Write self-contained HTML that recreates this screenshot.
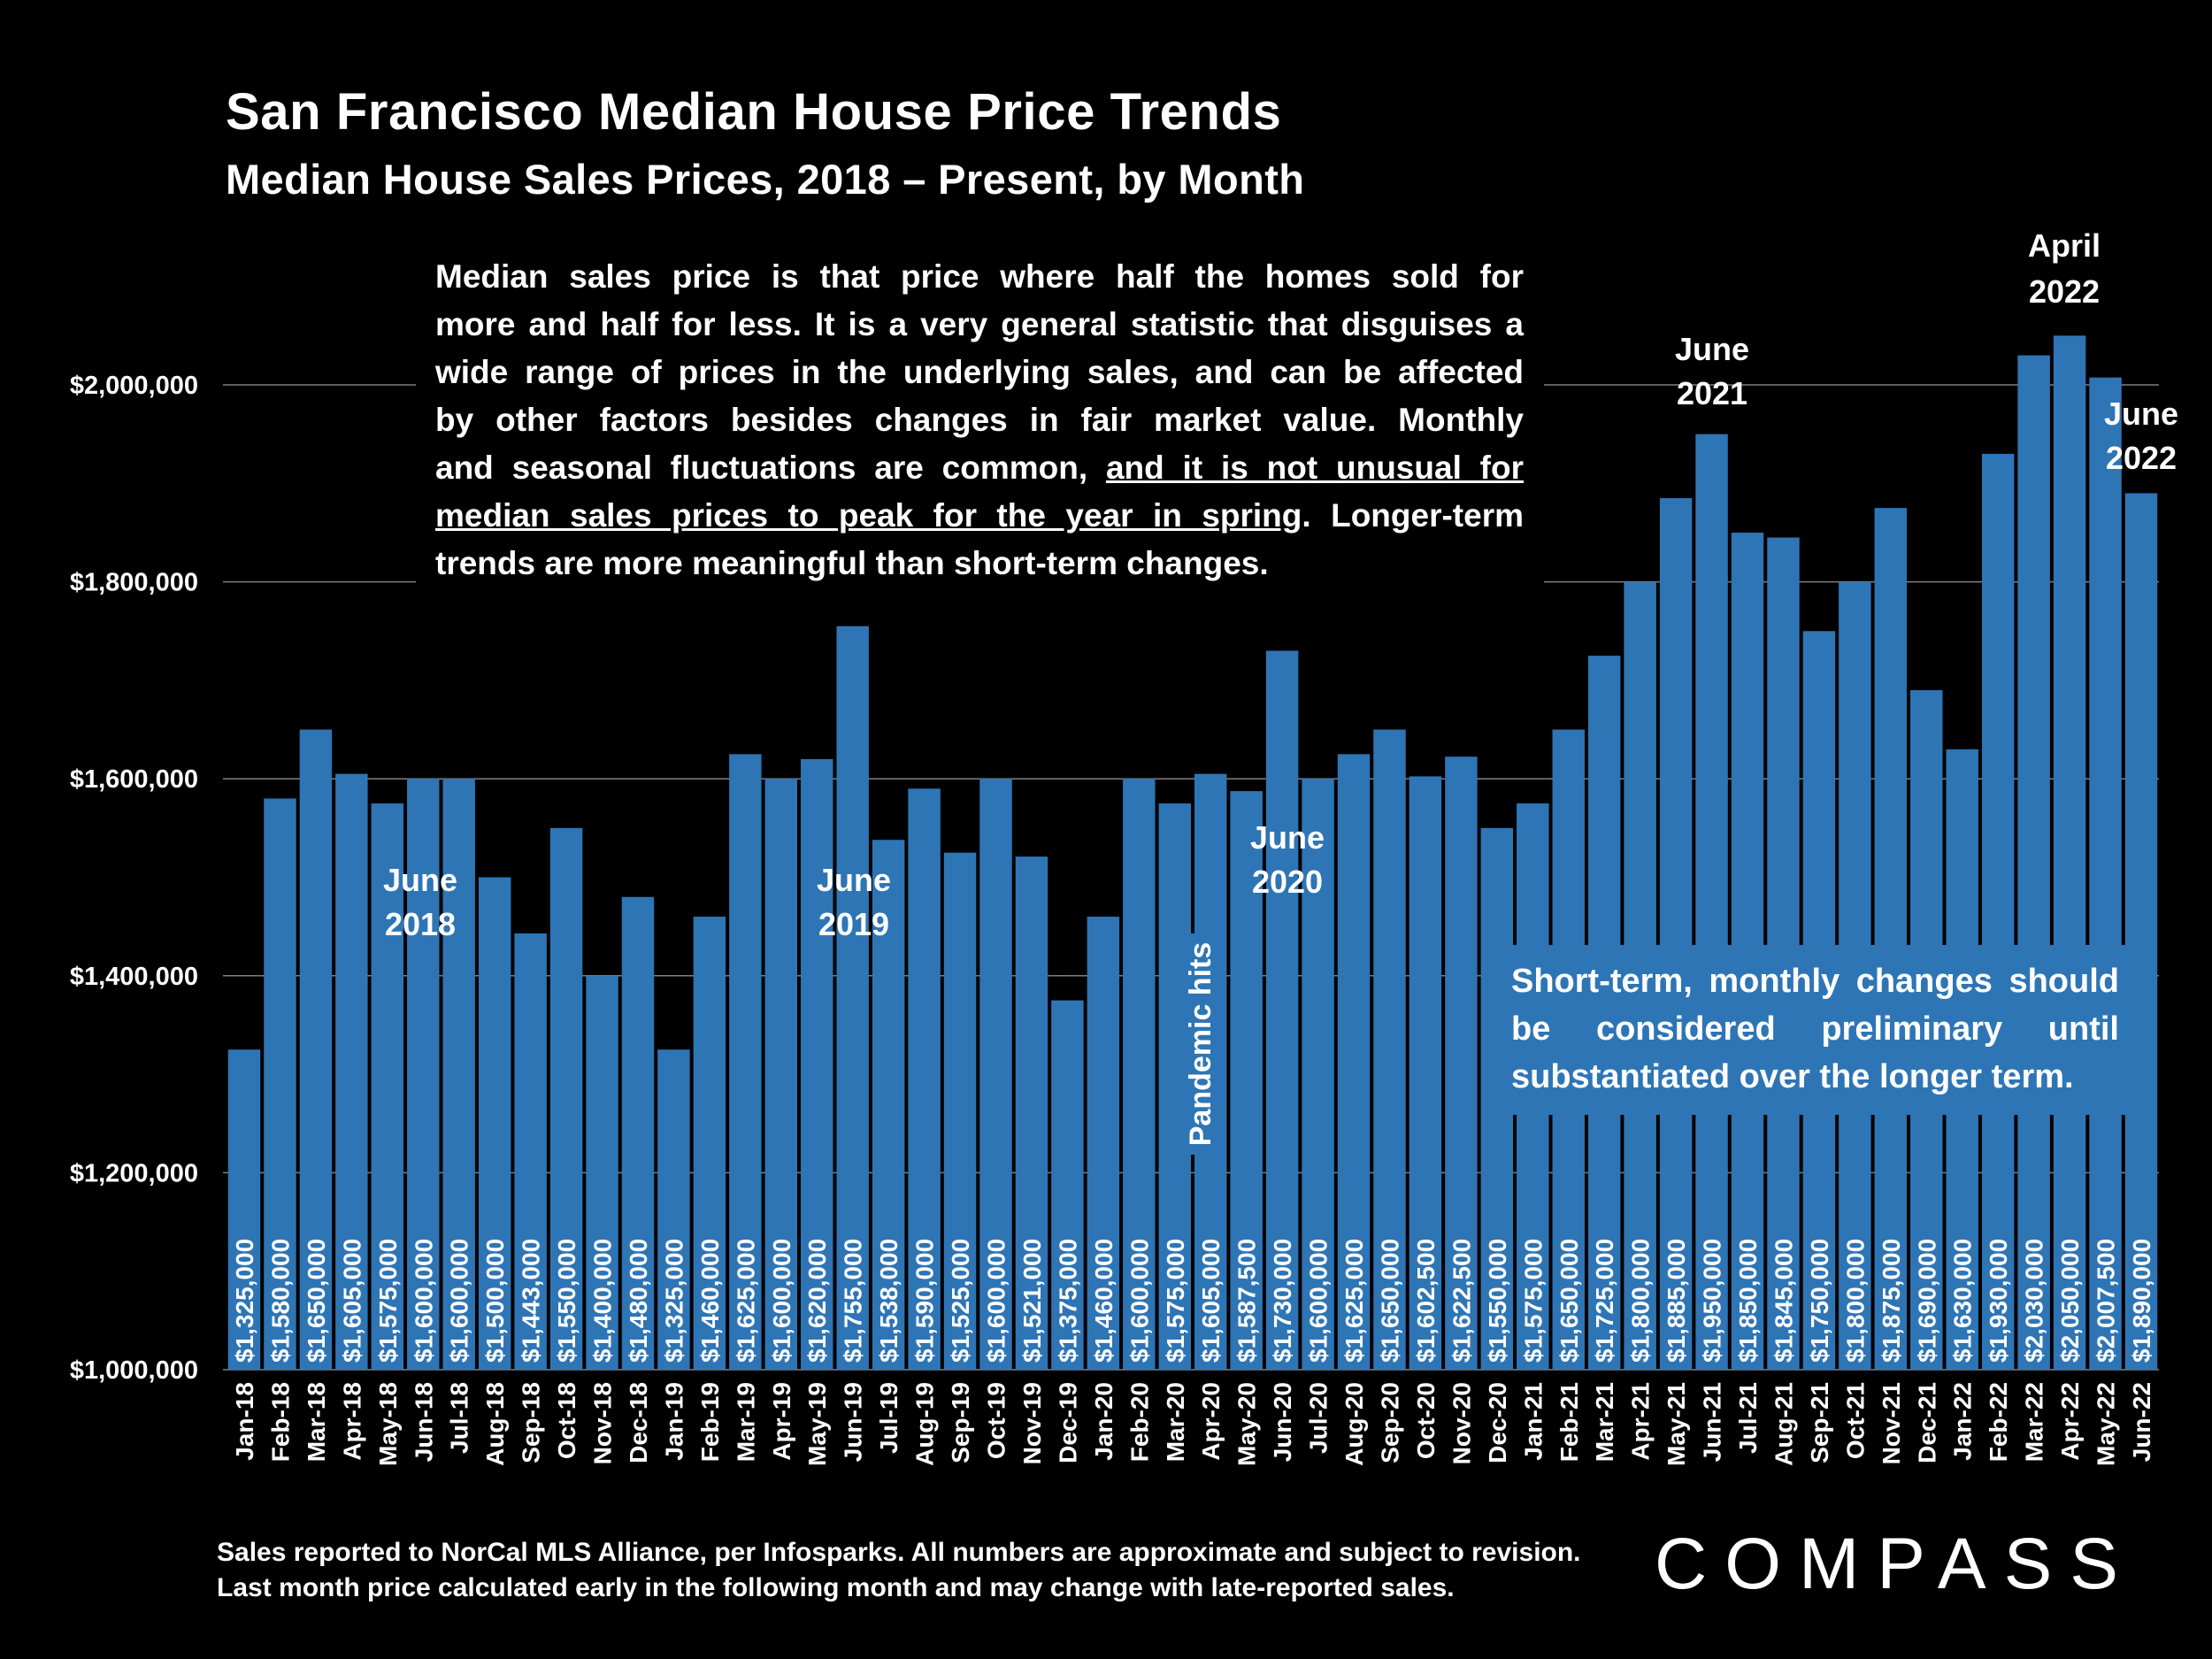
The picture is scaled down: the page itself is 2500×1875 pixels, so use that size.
<!DOCTYPE html>
<html><head><meta charset="utf-8"><style>
html,body{margin:0;padding:0;background:#000;}
#wrap{position:relative;width:2500px;height:1875px;overflow:hidden;background:#000;font-family:"Liberation Sans",sans-serif;color:#fff;}
.txt{position:absolute;font-weight:bold;color:#fff;}
.j span{display:block;text-align:justify;text-align-last:justify;}
.j span.last{text-align-last:left;}
</style></head><body>
<div id="wrap">
<svg id="chart" width="2500" height="1875" viewBox="0 0 2500 1875" style="position:absolute;left:0;top:0">
<g id="grid"></g><g id="bars"></g><g id="vals"></g><g id="xlabels"></g><g id="ylabels"></g>
</svg>
<div class="txt" style="left:255px;top:93px;font-size:58px;letter-spacing:0.6px;">San Francisco Median House Price Trends</div>
<div class="txt" style="left:255px;top:175px;font-size:47px;letter-spacing:0.4px;">Median House Sales Prices, 2018 – Present, by Month</div>
<div class="txt j" style="left:470px;top:275px;width:1275px;height:395px;background:#000;"></div>
<div class="txt j" style="left:492px;top:286px;width:1230px;font-size:37px;line-height:54px;">
<span>Median sales price is that price where half the homes sold for</span>
<span>more and half for less. It is a very general statistic that disguises a</span>
<span>wide range of prices in the underlying sales, and can be affected</span>
<span>by other factors besides changes in fair market value. Monthly</span>
<span>and seasonal fluctuations are common, <u>and it is not unusual for</u></span>
<span><u>median sales prices to peak for the year in spring</u>. Longer-term</span>
<span class="last">trends are more meaningful than short-term changes.</span>
</div>
<div class="txt j" style="left:1695px;top:1068px;width:720px;height:192px;background:#2e75b6;"></div>
<div class="txt j" style="left:1708px;top:1082px;width:687px;font-size:38px;line-height:54px;">
<span>Short-term, monthly changes should</span>
<span>be considered preliminary until</span>
<span class="last">substantiated over the longer term.</span>
</div>
<div class="txt" style="left:400px;top:970px;width:150px;text-align:center;font-size:36px;line-height:50px;">June<br>2018</div>
<div class="txt" style="left:890px;top:970px;width:150px;text-align:center;font-size:36px;line-height:50px;">June<br>2019</div>
<div class="txt" style="left:1380px;top:922px;width:150px;text-align:center;font-size:36px;line-height:50px;">June<br>2020</div>
<div class="txt" style="left:1860px;top:370px;width:150px;text-align:center;font-size:36px;line-height:50px;">June<br>2021</div>
<div class="txt" style="left:2258px;top:252px;width:150px;text-align:center;font-size:36px;line-height:52px;">April<br>2022</div>
<div class="txt" style="left:2350px;top:443px;width:140px;text-align:center;font-size:36px;line-height:50px;">June<br>2022</div>
<div class="txt" style="left:1232px;top:1158px;width:250px;height:44px;text-align:center;font-size:34px;line-height:44px;transform:rotate(-90deg);transform-origin:125px 22px;background:#2e75b6;">Pandemic hits</div>
<div class="txt" style="left:245px;top:1735px;font-size:30px;line-height:40px;font-weight:bold;">Sales reported to NorCal MLS Alliance, per Infosparks. All numbers are approximate and subject to revision.<br>Last month price calculated early in the following month and may change with late-reported sales.</div>
<div class="txt" style="left:1870px;top:1728px;font-size:82px;font-weight:normal;letter-spacing:20px;line-height:80px;">COMPASS</div>
</div>
<script>
const months=["Jan-18","Feb-18","Mar-18","Apr-18","May-18","Jun-18","Jul-18","Aug-18","Sep-18","Oct-18","Nov-18","Dec-18","Jan-19","Feb-19","Mar-19","Apr-19","May-19","Jun-19","Jul-19","Aug-19","Sep-19","Oct-19","Nov-19","Dec-19","Jan-20","Feb-20","Mar-20","Apr-20","May-20","Jun-20","Jul-20","Aug-20","Sep-20","Oct-20","Nov-20","Dec-20","Jan-21","Feb-21","Mar-21","Apr-21","May-21","Jun-21","Jul-21","Aug-21","Sep-21","Oct-21","Nov-21","Dec-21","Jan-22","Feb-22","Mar-22","Apr-22","May-22","Jun-22"];
const prices=[1325000,1580000,1650000,1605000,1575000,1600000,1600000,1500000,1443000,1550000,1400000,1480000,1325000,1460000,1625000,1600000,1620000,1755000,1538000,1590000,1525000,1600000,1521000,1375000,1460000,1600000,1575000,1605000,1587500,1730000,1600000,1625000,1650000,1602500,1622500,1550000,1575000,1650000,1725000,1800000,1885000,1950000,1850000,1845000,1750000,1800000,1875000,1690000,1630000,1930000,2030000,2050000,2007500,1890000];
const yTicks=[1000000,1200000,1400000,1600000,1800000,2000000];
const NS="http://www.w3.org/2000/svg";
const y0=1548,y1=435,vMin=1000000,vMax=2000000;
function yScale(v){return y0-(v-vMin)/(vMax-vMin)*(y0-y1);}
const xFirst=276,xLast=2420;
function xScale(i){return xFirst+i*(xLast-xFirst)/(months.length-1);}
const pitch=(xLast-xFirst)/(months.length-1),bw=pitch-4;
function fmt(v){return "$"+v.toLocaleString("en-US");}
function mk(tag,attrs,parent,text){const e=document.createElementNS(NS,tag);for(const k in attrs)e.setAttribute(k,attrs[k]);if(text!==undefined)e.textContent=text;document.getElementById(parent).appendChild(e);return e;}
yTicks.forEach(t=>{
  const l=mk("line",{x1:252,x2:2440,y1:yScale(t),y2:yScale(t),stroke:"#7f7f7f","stroke-width":1.5},"grid");
  
  
  const tx=mk("text",{x:224,y:yScale(t)+10,"text-anchor":"end",fill:"#fff","font-size":29,"font-weight":"bold","font-family":"Liberation Sans, sans-serif"},"ylabels",fmt(t));
  
  
});
prices.forEach((v,i)=>{
  const cx=xScale(i);
  const r=mk("rect",{x:cx-bw/2,y:yScale(v),width:bw,height:y0-yScale(v),fill:"#2e75b6"},"bars");
  
  
  const vt=mk("text",{transform:`translate(${cx+10},${y0-8}) rotate(-90)`,fill:"#fff","font-size":28,"font-weight":"bold","font-family":"Liberation Sans, sans-serif"},"vals",fmt(v));
  
  
  const xt=mk("text",{transform:`translate(${cx+10},${y0+14}) rotate(-90)`,"text-anchor":"end",fill:"#fff","font-size":28,"font-weight":"bold","font-family":"Liberation Sans, sans-serif"},"xlabels",months[i]);
  
  
});
</script>
</body></html>
